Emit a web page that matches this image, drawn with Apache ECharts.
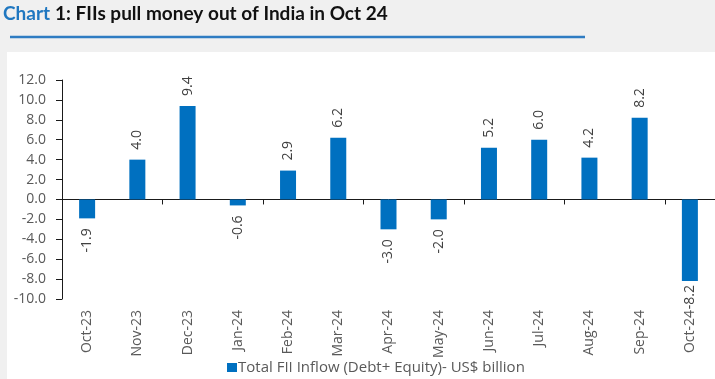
<!DOCTYPE html>
<html>
<head>
<meta charset="utf-8">
<script src="https://cdn.jsdelivr.net/npm/echarts@6/dist/echarts.min.js"></script>
<style>
html,body{margin:0;padding:0;background:#f0f0f0;}
#chart{width:715px;height:379px;}
</style>
</head>
<body>
<div id="chart"></div>
<script>
const categories = ['Oct-23','Nov-23','Dec-23','Jan-24','Feb-24','Mar-24','Apr-24','May-24','Jun-24','Jul-24','Aug-24','Sep-24','Oct-24'];
const fiiInflow = [-1.9, 4.0, 9.4, -0.6, 2.9, 6.2, -3.0, -2.0, 5.2, 6.0, 4.2, 8.2, -8.2];
const seriesName = 'Total FII Inflow (Debt+ Equity)- US$ billion';
const yMin = -10, yMax = 12, yStep = 2;

const FONT = 'Open Sans';
const TFONT = 'Lato';
const chart = echarts.init(document.getElementById('chart'), null, {renderer:'canvas'});

const barData = fiiInflow.map(v => ({
  value: v,
  label: v >= 0
    ? {position:'top', align:'left'}
    : {position:'bottom', align:'right', distance: v < -7 ? 4 : 10}
}));

chart.setOption({
  backgroundColor: '#f0f0f0',
  animation: false,
  graphic: [
    {type:'rect', shape:{x:7, y:52, width:710, height:330}, style:{fill:'#ffffff'}, z:-10},
    {type:'line', shape:{x1:10, y1:37, x2:585, y2:37}, style:{stroke:'#2f7cc2', lineWidth:2.5}, z:-5}
  ],
  title: {
    left: 3, top: 4, padding: 0,
    text: '{b|Chart} {k|1: FIIs pull money out of India in Oct 24}',
    textStyle: {
      rich: {
        b: {color:'#1f77c0', fontFamily: TFONT, fontWeight:'bold', fontSize:19},
        k: {color:'#111111', fontFamily: TFONT, fontWeight:'bold', fontSize:19}
      }
    }
  },
  legend: {
    left: 227, top: 360, padding: 0,
    icon: 'rect', itemWidth: 10, itemHeight: 9, itemGap: 4,
    textStyle: {fontFamily: FONT, fontSize: 15, color:'#595959', padding:[0,0,0,-4]},
    data: [seriesName]
  },
  grid: {left: 62, right: 0, top: 80, bottom: 80, containLabel: false},
  xAxis: [
    {
      type: 'category', data: categories, position: 'bottom',
      axisLine: {show: true, onZero: true, lineStyle: {color:'#1a1a1a', width:1}},
      axisTick: {show: true, length: 5, lineStyle:{color:'#1a1a1a'}},
      axisLabel: {show: false},
      splitLine: {show: false}
    },
    {
      type: 'category', data: categories, position: 'bottom',
      axisLine: {show: false, onZero: false},
      axisTick: {show: false},
      axisLabel: {show: true, rotate: 90, margin: 11, fontFamily: FONT, fontSize: 14, color:'#595959'},
      splitLine: {show: false}
    }
  ],
  yAxis: {
    type: 'value', min: yMin, max: yMax, interval: yStep,
    axisLine: {show: true, lineStyle: {color:'#1a1a1a', width:1}},
    axisTick: {show: true, length: 6, lineStyle:{color:'#1a1a1a'}},
    axisLabel: {fontFamily: FONT, fontSize: 14, color:'#595959', margin: 16, formatter: v => v.toFixed(1)},
    splitLine: {show: false}
  },
  series: [{
    name: seriesName,
    type: 'bar',
    xAxisIndex: 0,
    barWidth: 16,
    itemStyle: {color: '#0070c0'},
    label: {
      show: true, rotate: 90, distance: 10, verticalAlign: 'middle',
      fontFamily: FONT, fontSize: 14, color:'#404040',
      formatter: p => p.value.toFixed(1)
    },
    data: barData
  }]
});
</script>
</body>
</html>
